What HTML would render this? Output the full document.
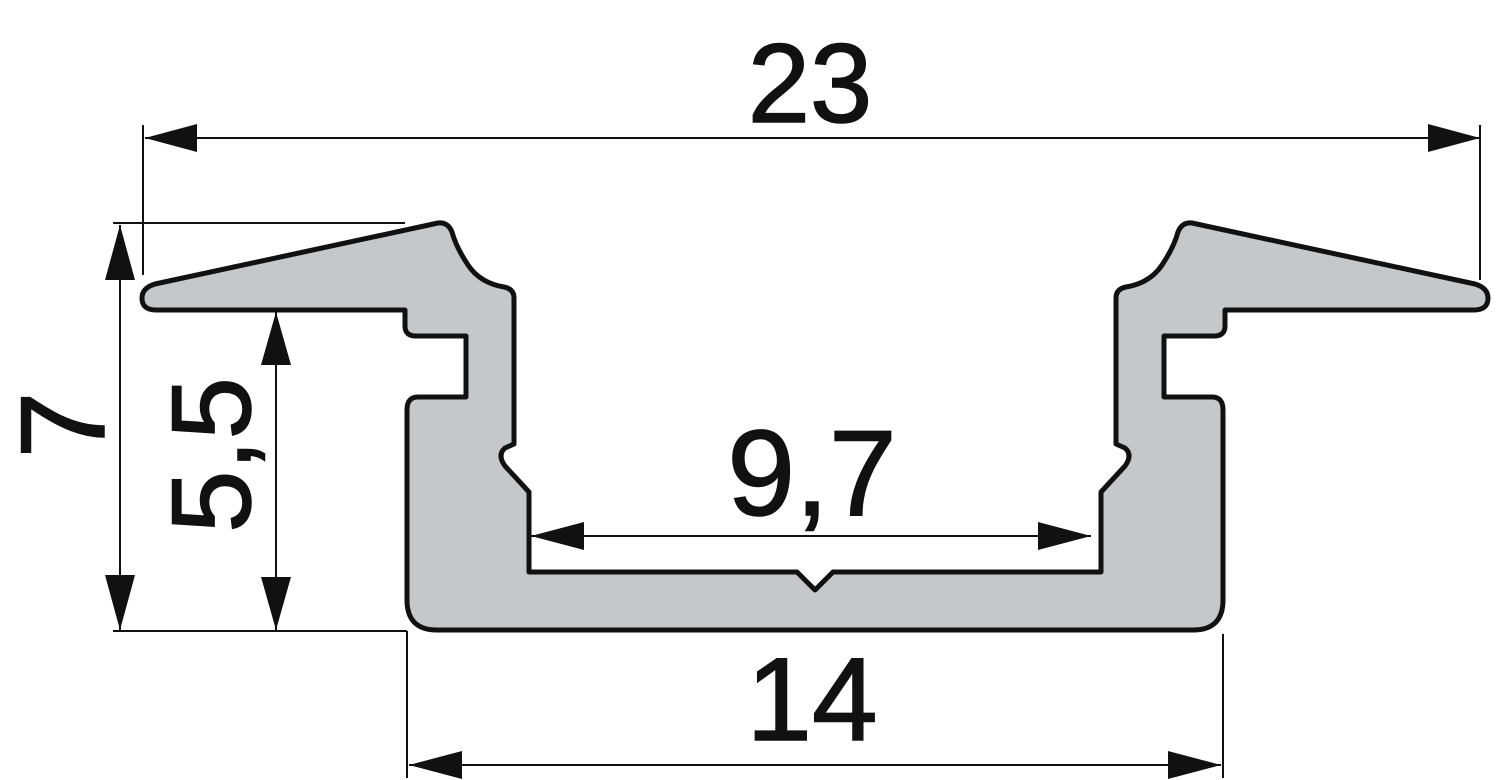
<!DOCTYPE html>
<html><head><meta charset="utf-8"><style>
html,body{margin:0;padding:0;background:#fff;}
svg{display:block;}
text{font-family:"Liberation Sans",Arial,sans-serif;fill:#111;stroke:#111;stroke-width:1.5;}
</style></head><body>
<svg width="1500" height="780" viewBox="0 0 1500 780" xmlns="http://www.w3.org/2000/svg">
<path fill="#c6c7c9" stroke="#111" stroke-width="5" stroke-linejoin="round"
d="M797,572 L529,572 L529,492 L505,466 Q497,455 505,448 L514,444 L514,298 Q514,289 504,287 Q480,283 468,265 Q456,247 452,232 Q448,222 438,223 L155,284 Q142,288 142,298 Q142,310 156,310 L405,310 L405,326 Q405,336 416,336 L466,336 L466,397 L418,397 Q407,397 407,410 L407,600 Q407,630 437,630 L1193,630 Q1223,630 1223,600 L1223,410 Q1223,397 1212,397 L1164,397 L1164,336 L1214,336 Q1225,336 1225,326 L1225,310 L1474,310 Q1488,310 1488,298 Q1488,288 1475,284 L1192,223 Q1182,222 1178,232 Q1174,247 1162,265 Q1150,283 1126,287 Q1116,289 1116,298 L1116,444 L1125,448 Q1133,455 1125,466 L1101,492 L1101,572 L833,572 L815,590 Z"/>
<g stroke="#111" stroke-width="2" fill="none">
<line x1="145" y1="138" x2="1480" y2="138"/>
<line x1="143" y1="125" x2="143" y2="275"/>
<line x1="1480" y1="125" x2="1480" y2="280"/>
<line x1="113" y1="223" x2="405" y2="223"/>
<line x1="120" y1="225" x2="120" y2="630"/>
<line x1="113" y1="631" x2="407" y2="631"/>
<line x1="407" y1="631" x2="407" y2="778"/>
<line x1="1223" y1="634" x2="1223" y2="778"/>
<line x1="276" y1="312" x2="276" y2="630"/>
<line x1="531" y1="536" x2="1091" y2="536"/>
<line x1="409" y1="765" x2="1221" y2="765"/>
</g>
<g fill="#111">
<polygon points="145,138 197,124 197,152"/>
<polygon points="1480,138 1428,124 1428,152"/>
<polygon points="120,225 105,280 135,280"/>
<polygon points="120,630 105,575 135,575"/>
<polygon points="276,312 261,365 291,365"/>
<polygon points="276,630 261,577 291,577"/>
<polygon points="531,536 584,522 584,550"/>
<polygon points="1091,536 1038,522 1038,550"/>
<polygon points="409,765 462,751 462,779"/>
<polygon points="1221,765 1168,751 1168,779"/>
</g>
<text x="810" y="122" font-size="112" text-anchor="middle">23</text>
<text x="812" y="515" font-size="122" text-anchor="middle">9,7</text>
<text x="812" y="740" font-size="118" text-anchor="middle">14</text>
<text transform="translate(104,425) rotate(-90)" font-size="120" text-anchor="middle">7</text>
<text transform="translate(250,455) rotate(-90)" font-size="112" text-anchor="middle">5,5</text>
</svg>
</body></html>
